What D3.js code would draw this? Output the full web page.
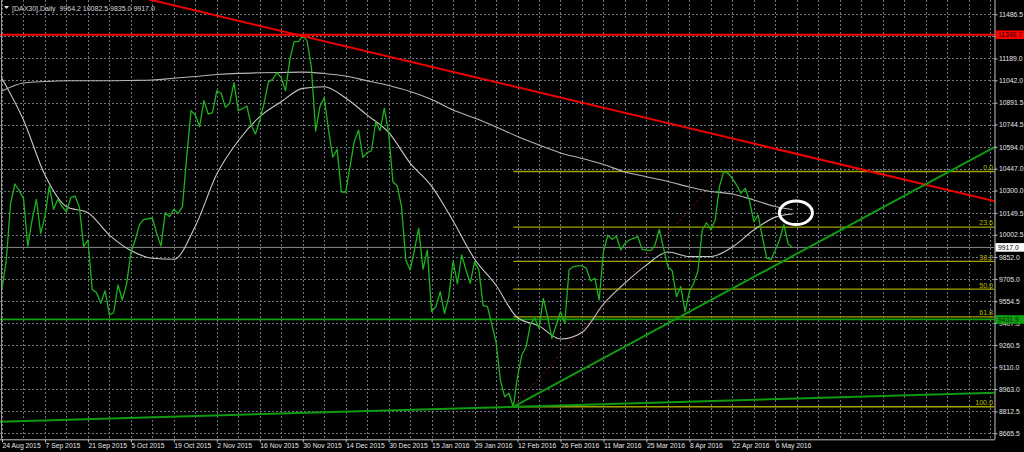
<!DOCTYPE html>
<html><head><meta charset="utf-8">
<script src="https://cdn.jsdelivr.net/npm/d3@7"></script>
<style>html,body{margin:0;padding:0;background:#000;overflow:hidden}text{font-family:"Liberation Sans",Arial,sans-serif}</style>
</head><body><svg id="c" width="1024" height="452"></svg>
<script>
// ---- data ----
const title = "[DAX30],Daily  9964.2 10082.5 9835.0 9917.0";
const dateLabels = ["24 Aug 2015","7 Sep 2015","21 Sep 2015","5 Oct 2015","19 Oct 2015","2 Nov 2015","16 Nov 2015","30 Nov 2015","14 Dec 2015","30 Dec 2015","15 Jan 2016","29 Jan 2016","12 Feb 2016","26 Feb 2016","11 Mar 2016","25 Mar 2016","8 Apr 2016","22 Apr 2016","6 May 2016"];
const barsPerLabel = 10;
const closes = [9641,9832,10214,10344,10299,10248,9926,10101,10241,10012,
10124,10330,10174,10241,10191,10157,10252,10263,10191,9922,
9967,9635,9612,9541,9626,9462,9477,9664,9563,9671,
9881,9967,10070,10106,10110,10115,10013,9926,10151,10124,
10174,10146,10191,10528,10837,10808,10730,10905,10815,10824,
10972,10955,10860,10887,11026,10837,10851,10869,10741,10680,
10775,10887,11030,11049,11093,11060,10972,11183,11302,11302,
11340,11309,11134,10700,10865,10925,10708,10524,10577,10290,
10290,10460,10629,10707,10524,10555,10568,10763,10703,10854,
10685,10359,10330,10191,9832,9765,9899,10046,9770,9899,
9484,9518,9619,9473,9585,9827,9671,9866,9765,9675,
9821,9765,9525,9518,9400,9280,9024,8912,8935,8844,
9046,9193,9248,9401,9440,9372,9574,9450,9305,9395,
9484,9406,9768,9787,9792,9792,9778,9692,9709,9563,
9890,9999,9971,9994,9899,9944,9967,9978,9989,9904,
9899,9895,9933,10039,9911,9787,9760,9585,9653,9484,
9619,9675,9760,10034,10083,10034,10101,10326,10428,10416,
10382,10337,10281,10315,10230,10090,10135,9985,9845,9836,
9899,9970,10070,9940,9917];
// moving averages sampled every maStep bars (last value = last bar)
const maStep = 5;
const maLong = [10970,11024,11034,11039,11039,11039,11041,11044,11056,11068,
11081,11089,11093,11095,11097,11088,11071,11039,11007,10967,
10913,10842,10788,10728,10664,10606,10553,10516,10475,10425,
10393,10361,10324,10293,10277,10236,10192,10172];
const maShort = [11054,10775,10404,10191,10151,10000,9896,9844,9837,10060,
10411,10635,10797,10898,10988,10999,10923,10808,10691,10485,
10330,10095,9839,9662,9443,9388,9300,9344,9536,9677,
9798,9886,9855,9856,9920,10034,10121,10142];
const priceTicks = [11486.5,11339.5,11189.0,11042.0,10891.5,10744.5,10594.0,10447.0,10300.0,10149.5,10002.5,9852.0,9705.0,9554.5,9407.5,9260.5,9110.0,8963.0,8812.5,8665.5];
const hiddenTicks = [11339.5];
const resistance = 11348.7;
const support = 9431.9;
const lastPrice = 9917.0;
const fibLevels = [0, 23.6, 38.2, 50.0, 61.8, 100.0];
const fibLabels = ["0.0","23.6","38.2","50.0","61.8","100.0"];
const fibLow = {bar:119, price:8844};
const fibHigh = {bar:168, price:10428};
const redTrend = [{bar:70, price:11340},{bar:200, price:10443}];
const greenTrend = [{bar:119, price:8844},{bar:231, price:10592}];
const baseTrend = [{bar:0, price:8744},{bar:231, price:8938}];
const marker = {bar:184.8, price:10150};

// ---- layout ----
const W = 1024, H = 452;
const plotR = 994.5, plotB = 439.3;
const FS = 6.8;
const x = d3.scaleLinear().domain([0, 231]).range([2, 994.4]);
const y = d3.scaleLinear().domain([8625.0, 11582.8]).range([plotB, 0]);

const svg = d3.select("#c");
svg.append("rect").attr("width",W).attr("height",H).attr("fill","#000");
svg.append("defs").append("clipPath").attr("id","clip")
  .append("rect").attr("x",0).attr("y",0).attr("width",plotR).attr("height",plotB);
const g = svg.append("g").attr("clip-path","url(#clip)");

// grid
const gridColor = "#6e7682";
d3.range(0, 231, 5).forEach(b => {
  const xx = Math.round(x(b)) + 0.5;
  g.append("line").attr("x1",xx).attr("x2",xx).attr("y1",0).attr("y2",plotB)
    .attr("stroke",gridColor).attr("stroke-dasharray","2,2").attr("stroke-width",1);
});
priceTicks.forEach(p => {
  const yy = Math.round(y(p)) + 0.5;
  g.append("line").attr("x1",0).attr("x2",plotR).attr("y1",yy).attr("y2",yy)
    .attr("stroke",gridColor).attr("stroke-dasharray","2,2").attr("stroke-width",1);
});

// fibonacci levels
const fibColor = "#a3a300";
fibLevels.forEach((lv, k) => {
  const p = fibHigh.price - (fibHigh.price - fibLow.price) * lv / 100;
  const yy = y(p);
  g.append("line").attr("x1",x(fibLow.bar)).attr("x2",plotR).attr("y1",yy).attr("y2",yy)
    .attr("stroke",fibColor).attr("stroke-width",1.3);
  g.append("text").attr("x",plotR-1.5).attr("y",yy-1.6).attr("text-anchor","end")
    .attr("font-size",FS+0.3).attr("fill","#b8b800").text(fibLabels[k]);
});
g.append("line").attr("x1",x(fibLow.bar)).attr("y1",y(fibLow.price))
  .attr("x2",x(fibHigh.bar)).attr("y2",y(fibHigh.price))
  .attr("stroke","#9a1010").attr("stroke-width",1).attr("stroke-dasharray","2,3");

// horizontal lines
g.append("line").attr("x1",0).attr("x2",plotR).attr("y1",y(lastPrice)).attr("y2",y(lastPrice))
  .attr("stroke","#8a8a8a").attr("stroke-width",1);
g.append("line").attr("x1",0).attr("x2",plotR).attr("y1",y(support)).attr("y2",y(support))
  .attr("stroke","#10a010").attr("stroke-width",1.8);
g.append("line").attr("x1",0).attr("x2",plotR).attr("y1",y(resistance)).attr("y2",y(resistance))
  .attr("stroke","#ff0000").attr("stroke-width",2);

// moving averages
const maIdx = i => Math.min(i * maStep, closes.length - 1);
const maLine = d3.line().x((d,i) => x(maIdx(i))).y(d => y(d)).curve(d3.curveMonotoneX);
g.append("path").attr("d", maLine(maLong)).attr("fill","none").attr("stroke","#b4b4b4").attr("stroke-width",1.1);
g.append("path").attr("d", maLine(maShort)).attr("fill","none").attr("stroke","#c8c8c8").attr("stroke-width",1.1);

// price line
const pLine = d3.line().x((d,i) => x(i)).y(d => y(d));
g.append("path").attr("d", pLine(closes)).attr("fill","none").attr("stroke","#1cb41c").attr("stroke-width",1.3).attr("stroke-linejoin","round");

// trend lines
function extend(pts, left, right) {
  const s = (pts[1].price - pts[0].price) / (pts[1].bar - pts[0].bar);
  return [[left, pts[0].price + s*(left - pts[0].bar)], [right, pts[0].price + s*(right - pts[0].bar)]];
}
const tl = d3.line().x(d => x(d[0])).y(d => y(d[1]));
g.append("path").attr("d", tl(extend(redTrend, 0, 235))).attr("stroke","#f00000").attr("stroke-width",2).attr("fill","none");
g.append("path").attr("d", tl(extend(greenTrend, greenTrend[0].bar, 235))).attr("stroke","#0f9a0f").attr("stroke-width",2).attr("fill","none");
g.append("path").attr("d", tl(extend(baseTrend, -1, 235))).attr("stroke","#0f9a0f").attr("stroke-width",2).attr("fill","none");

// marker ellipse
g.append("ellipse").attr("cx",x(marker.bar)).attr("cy",y(marker.price)).attr("rx",16.5).attr("ry",11.8)
  .attr("fill","none").attr("stroke","#ffffff").attr("stroke-width",3);

// frame
svg.append("line").attr("x1",1.5).attr("x2",1.5).attr("y1",0).attr("y2",plotB).attr("stroke","#9a9a9a");

// axes
const yAxis = d3.axisRight(y).tickValues(priceTicks)
  .tickFormat(d => hiddenTicks.includes(d) ? "" : d3.format(".1f")(d)).tickSize(3).tickPadding(1.5);
const ya = svg.append("g").attr("transform",`translate(${plotR},0)`).call(yAxis);
ya.select(".domain").attr("stroke","#c4c4c4").attr("d",`M0.5,0V${plotB}`);
ya.selectAll(".tick line").attr("stroke","#c4c4c4");
ya.selectAll("text").attr("fill","#e6e6e6").attr("font-size",FS).attr("font-family","Liberation Sans, Arial, sans-serif");

const xAxis = d3.axisBottom(x).tickValues(d3.range(0, dateLabels.length*barsPerLabel, barsPerLabel))
  .tickFormat((d,i) => dateLabels[i]).tickSize(3).tickPadding(2);
const xa = svg.append("g").attr("transform",`translate(0,${plotB})`).call(xAxis);
xa.select(".domain").attr("stroke","#c4c4c4").attr("d",`M0,0.5H${plotR+0.5}`);
xa.selectAll(".tick line").attr("stroke","#c4c4c4");
xa.selectAll("text").attr("fill","#e6e6e6").attr("font-size",FS).attr("text-anchor","start")
  .attr("font-family","Liberation Sans, Arial, sans-serif").attr("dy","0.6em");

// price labels on axis
function tag(p, bg, fg) {
  const yy = y(p);
  svg.append("rect").attr("x",plotR+1).attr("y",yy-4.3).attr("width",W-plotR-1).attr("height",8.6).attr("fill",bg);
  svg.append("text").attr("x",plotR+3.5).attr("y",yy).attr("dy","0.35em").attr("font-size",FS).attr("fill",fg).text(d3.format(".1f")(p));
}
tag(resistance, "#ff0000", "#1a0000");
tag(support, "#10a010", "#002000");
tag(lastPrice, "#ffffff", "#000000");

// title
svg.append("path").attr("d","M4,6 L9,6 L6.5,9 Z").attr("fill","#e0e0e0");
svg.append("text").attr("x",12).attr("y",10.5).attr("font-size",FS+0.2).attr("fill","#d8d8d8")
  .attr("xml:space","preserve").style("white-space","pre").text(title);
</script></body></html>
